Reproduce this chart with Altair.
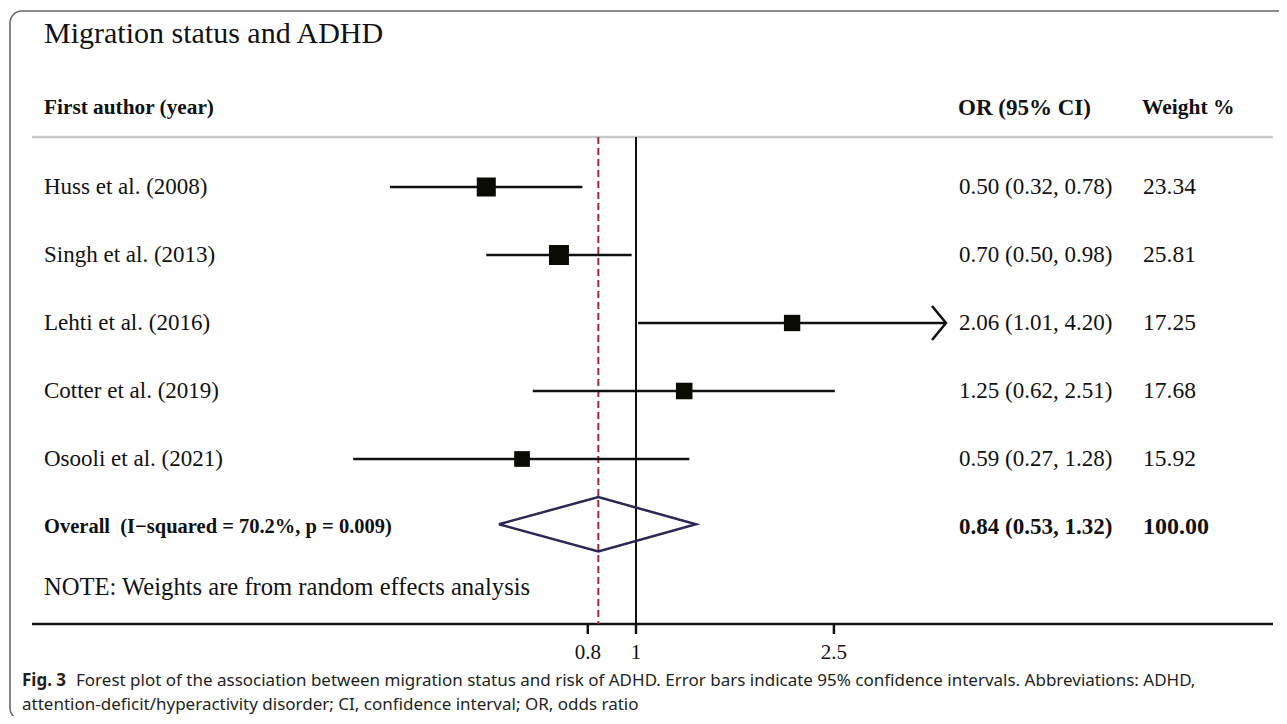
import math
import pandas as pd
import altair as alt

# ---------------- data ----------------
authors = ["Huss et al. (2008)", "Singh et al. (2013)", "Lehti et al. (2016)",
           "Cotter et al. (2019)", "Osooli et al. (2021)"]
or_est = [0.50, 0.70, 2.06, 1.25, 0.59]
ci_lo = [0.32, 0.50, 1.01, 0.62, 0.27]
ci_hi = [0.78, 0.98, 4.20, 2.51, 1.28]
weights = [23.34, 25.81, 17.25, 17.68, 15.92]

overall_est, overall_lo, overall_hi = 0.84, 0.53, 1.32
overall_weight = 100.00
i_squared, p_value = 70.2, 0.009

tick_values = [0.8, 1, 2.5]
axis_max = 4.0

title_text = "Migration status and ADHD"
note_text = "NOTE: Weights are from random effects analysis"
caption_bold = "Fig. 3"
caption_line1 = ("Forest plot of the association between migration status and risk of ADHD. "
                 "Error bars indicate 95% confidence intervals. Abbreviations: ADHD,")
caption_line2 = "attention-deficit/hyperactivity disorder; CI, confidence interval; OR, odds ratio"

# ---------------- layout ----------------
W, H = 1271, 708
PX_PER_LN = 216.0
X_ONE = 628.0
x_dom = [math.exp(-X_ONE / PX_PER_LN), math.exp((W - X_ONE) / PX_PER_LN)]
ROW0, ROW_STEP = 179.0, 68.0
y_dom = [-ROW0 / ROW_STEP, (H - ROW0) / ROW_STEP]

xs = alt.Scale(type="log", domain=x_dom, nice=False)
ys = alt.Scale(domain=y_dom, reverse=True, nice=False, zero=False)

SERIF = "Liberation Serif"
SANS = "Noto Sans"


def X(f):
    return alt.X(f, type="quantitative", scale=xs, axis=None)


def X2(f):
    return alt.X2(f)


def Y(f):
    return alt.Y(f, type="quantitative", scale=ys, axis=None)


studies = pd.DataFrame({
    "row": list(range(len(authors))),
    "author": authors,
    "est": or_est,
    "lo": ci_lo,
    "hi": ci_hi,
    "weight": weights,
})
studies["or_txt"] = [f"{e:.2f} ({l:.2f}, {h:.2f})" for e, l, h in zip(or_est, ci_lo, ci_hi)]
studies["w_txt"] = [f"{w:.2f}" for w in weights]

overall_row = len(authors)
overall = pd.DataFrame({
    "row": [overall_row],
    "label": [f"Overall\u00a0 (I\u2212squared = {i_squared:.1f}%, p = {p_value:.3f})"],
    "or_txt": [f"{overall_est:.2f} ({overall_lo:.2f}, {overall_hi:.2f})"],
    "w_txt": [f"{overall_weight:.2f}"],
    "est": [overall_est],
})

dh = 0.4
dc = overall_row - 0.04
diamond = pd.DataFrame({
    "x": [overall_lo, overall_est, overall_hi, overall_est, overall_lo],
    "y": [dc, dc - dh, dc, dc + dh, dc],
    "o": [0, 1, 2, 3, 4],
})

ticks = pd.DataFrame({"v": tick_values, "lab": [f"{v:g}" for v in tick_values]})
ref = pd.DataFrame({"v": [1.0]})

# ---------------- layers ----------------
border = alt.Chart(ref).mark_rect(
    cornerRadius=12, fillOpacity=0, stroke="#666666", strokeWidth=1.6
).encode(x=alt.value(2), x2=alt.value(1320), y=alt.value(3), y2=alt.value(712))

title = alt.Chart(pd.DataFrame({"t": [title_text]})).mark_text(
    align="left", baseline="alphabetic", font=SERIF, fontSize=30, color="#111111"
).encode(x=alt.value(36), y=alt.value(35), text="t")

hdr_style = dict(align="left", baseline="middle", font=SERIF, fontWeight="bold", color="#111111")
header1 = alt.Chart(pd.DataFrame({"t": ["First author (year)"]})).mark_text(
    **hdr_style, fontSize=21.3).encode(x=alt.value(36), y=alt.value(100), text="t")
header2 = alt.Chart(pd.DataFrame({"t": ["OR (95% CI)"]})).mark_text(
    **hdr_style, fontSize=23).encode(x=alt.value(950), y=alt.value(100), text="t")
header3 = alt.Chart(pd.DataFrame({"t": ["Weight %"]})).mark_text(
    **hdr_style, fontSize=21.5).encode(x=alt.value(1134), y=alt.value(100), text="t")

header_line = alt.Chart(ref).mark_rule(color="#c8c8c8", strokeWidth=2.5).encode(
    x=alt.value(24), x2=alt.value(1265), y=alt.value(129))

axis_line = alt.Chart(ref).mark_rule(color="#111111", strokeWidth=2.5).encode(
    x=alt.value(24), x2=alt.value(1265), y=alt.value(616))

null_line = alt.Chart(ref).mark_rule(color="#111111", strokeWidth=2).encode(
    x=X("v"), y=alt.value(129), y2=alt.value(616))

est_line = alt.Chart(overall).mark_rule(color="#9e2a3a", strokeWidth=2, strokeDash=[7, 4]).encode(
    x=X("est"), y=alt.value(129), y2=alt.value(616))

tick_marks = alt.Chart(ticks).mark_rule(color="#111111", strokeWidth=2.5).encode(
    x=X("v"), y=alt.value(616), y2=alt.value(626))

tick_labels = alt.Chart(ticks).mark_text(
    align="center", baseline="middle", font=SERIF, fontSize=21, color="#111111"
).encode(x=X("v"), y=alt.value(645), text="lab")

ci = alt.Chart(studies).mark_rule(color="#111111", strokeWidth=2.5).encode(
    x=X("lo"), x2=X2("hi"), y=Y("row"))

arrow = alt.Chart(studies).transform_filter(alt.datum.hi > axis_max).mark_point(
    shape="M-0.82,-1L0,0L-0.82,1", size=1156, filled=False, color="#111111",
    strokeWidth=2.5, opacity=1
).encode(x=X("hi"), y=Y("row"))

boxes = alt.Chart(studies).mark_square(color="#0b0b05", opacity=1).encode(
    x=X("est"), y=Y("row"),
    size=alt.Size("weight:Q", scale=alt.Scale(domain=[0, 100], range=[0, 1550], zero=True), legend=None))

dia = alt.Chart(diamond).mark_line(color="#2b2954", strokeWidth=2.5).encode(
    x=X("x"), y=Y("y"), order="o:Q")

row_txt = dict(align="left", baseline="middle", font=SERIF, fontSize=23, color="#111111")
lab_study = alt.Chart(studies).mark_text(**row_txt).encode(x=alt.value(36), y=Y("row"), text="author")
or_study = alt.Chart(studies).mark_text(**row_txt).encode(x=alt.value(951), y=Y("row"), text="or_txt")
w_study = alt.Chart(studies).mark_text(**dict(row_txt, fontSize=23.5)).encode(
    x=alt.value(1135), y=Y("row"), text="w_txt")

bold_txt = dict(row_txt, fontWeight="bold")
lab_all = alt.Chart(overall).mark_text(**dict(bold_txt, fontSize=20.5)).encode(
    x=alt.value(36), y=Y("row"), text="label")
or_all = alt.Chart(overall).mark_text(**bold_txt).encode(x=alt.value(951), y=Y("row"), text="or_txt")
w_all = alt.Chart(overall).mark_text(**dict(bold_txt, fontSize=24)).encode(
    x=alt.value(1135), y=Y("row"), text="w_txt")

note = alt.Chart(pd.DataFrame({"t": [note_text]})).mark_text(**dict(row_txt, fontSize=24.6)).encode(
    x=alt.value(36), y=alt.value(580), text="t")

cap_style = dict(align="left", baseline="alphabetic", font=SANS, fontSize=17, color="#231f20")
cap_b = alt.Chart(pd.DataFrame({"t": [caption_bold]})).mark_text(**cap_style, fontWeight="bold").encode(
    x=alt.value(14), y=alt.value(678), text="t")
cap_1 = alt.Chart(pd.DataFrame({"t": [caption_line1]})).mark_text(**cap_style).encode(
    x=alt.value(68), y=alt.value(678), text="t")
cap_2 = alt.Chart(pd.DataFrame({"t": [caption_line2]})).mark_text(**cap_style).encode(
    x=alt.value(14), y=alt.value(702), text="t")

chart = alt.layer(
    border, title, header1, header2, header3, header_line, axis_line, null_line, est_line,
    tick_marks, tick_labels, ci, arrow, boxes, dia,
    lab_study, or_study, w_study, lab_all, or_all, w_all, note,
    cap_b, cap_1, cap_2,
).properties(
    width=W, height=H, padding=0, autosize=alt.AutoSizeParams(type="none"),
    background="white",
).configure_view(stroke=None)

chart.save("out.html", embed_options={"renderer": "svg", "actions": False})
